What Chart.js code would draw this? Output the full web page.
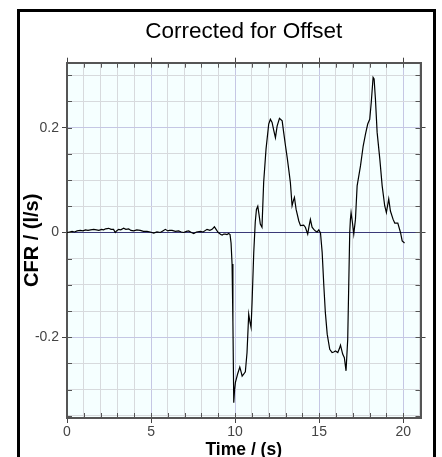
<!DOCTYPE html>
<html lang="en">
<head>
<meta charset="UTF-8">
<title>Corrected for Offset</title>
<script src="https://cdn.jsdelivr.net/npm/chart.js"></script>
<style>
    html, body { margin: 0; padding: 0; background: #fff; }
    body { position: relative; width: 442px; height: 457px; overflow: hidden; }
    .frame { position: absolute; left: 17px; top: 9px; width: 413px; height: 470px; border: 3px solid #000; }
    .chart-box { position: absolute; left: 0; top: 0; width: 442px; height: 457px; }
</style>
</head>
<body>
<div class="frame"></div>
<div class="chart-box"><canvas id="cfrChart" width="442" height="457"></canvas></div>

<script>
    // time (s) and corrected flow rate (l/s)
    const times = [
        0.0, 0.15, 0.3, 0.45, 0.6, 0.79, 0.95, 1.1, 1.25, 1.4, 1.59, 1.75, 1.9, 2.05, 2.18, 2.3, 2.48, 2.62, 2.77, 2.87,
        2.95, 3.07, 3.2, 3.37, 3.5, 3.67, 3.8, 3.97, 4.15, 4.36, 4.55, 4.76, 4.95, 5.16, 5.35, 5.55, 5.7, 5.85, 6.0, 6.1,
        6.25, 6.45, 6.64, 6.8, 6.94, 7.1, 7.24, 7.4, 7.54, 7.7, 7.94, 8.1, 8.33, 8.5, 8.63, 8.77, 8.85, 8.93, 9.0, 9.08,
        9.15, 9.23, 9.33, 9.42, 9.52, 9.62, 9.7, 9.76, 9.82, 9.87, 9.92, 9.97, 10.02, 10.15, 10.28, 10.35, 10.42, 10.52, 10.61, 10.71,
        10.81, 10.88, 10.95, 11.01, 11.11, 11.2, 11.27, 11.35, 11.42, 11.5, 11.6, 11.7, 11.84, 12.0, 12.1, 12.2, 12.3, 12.4, 12.5, 12.64,
        12.8, 12.89, 13.0, 13.1, 13.2, 13.29, 13.39, 13.46, 13.53, 13.63, 13.79, 13.89, 14.08, 14.18, 14.32, 14.4, 14.48, 14.58, 14.68, 14.78,
        14.88, 14.98, 15.08, 15.18, 15.28, 15.37, 15.48, 15.63, 15.77, 15.87, 15.97, 16.11, 16.2, 16.27, 16.4, 16.5, 16.6, 16.7, 16.76, 16.82,
        16.86, 16.9, 16.98, 17.06, 17.16, 17.26, 17.46, 17.62, 17.76, 17.89, 18.01, 18.1, 18.21, 18.27, 18.35, 18.45, 18.61, 18.75, 18.9, 19.0,
        19.14, 19.24, 19.4, 19.5, 19.68, 19.84, 19.94, 20.08
    ];
    const cfr = [
        0.0, 0.001, 0.002, 0.001, 0.003, 0.004, 0.003, 0.005, 0.004, 0.005, 0.006, 0.005, 0.004, 0.006, 0.005, 0.007, 0.008, 0.006, 0.006, 0.0,
        0.003, 0.006, 0.005, 0.008, 0.006, 0.007, 0.004, 0.003, 0.005, 0.004, 0.002, 0.002, 0.001, -0.001, 0.001, 0.0, 0.003, 0.006, 0.003, 0.004,
        0.004, 0.002, 0.003, 0.001, 0.0, 0.002, 0.003, 0.0, -0.002, 0.001, 0.002, 0.001, 0.006, 0.004, 0.006, 0.011, 0.007, 0.003, 0.0, -0.002,
        -0.004, -0.005, -0.003, -0.003, -0.004, -0.002, -0.004, -0.02, -0.06, -0.17, -0.325, -0.3, -0.286, -0.27, -0.257, -0.265, -0.274, -0.27, -0.266, -0.229,
        -0.156, -0.17, -0.181, -0.133, -0.038, 0.02, 0.044, 0.05, 0.035, 0.016, 0.01, 0.096, 0.159, 0.207, 0.216, 0.21, 0.195, 0.181, 0.203, 0.218,
        0.213, 0.191, 0.165, 0.143, 0.118, 0.095, 0.051, 0.06, 0.067, 0.044, 0.022, 0.013, 0.014, 0.01, -0.003, 0.012, 0.025, 0.01, 0.006, 0.003,
        0.001, 0.005, -0.001, -0.038, -0.102, -0.153, -0.194, -0.223, -0.229, -0.228, -0.226, -0.229, -0.222, -0.215, -0.232, -0.239, -0.264, -0.204, -0.102, 0.0,
        0.025, 0.038, 0.019, -0.003, 0.025, 0.089, 0.127, 0.165, 0.188, 0.207, 0.216, 0.248, 0.296, 0.293, 0.254, 0.191, 0.14, 0.089, 0.051, 0.038,
        0.064, 0.041, 0.025, 0.018, 0.018, 0.0, -0.016, -0.02
    ];
    const xTickLabels = [0, 5, 10, 15, 20];
    const yTickLabels = [-0.2, 0, 0.2];

    const FONT = '"Liberation Sans", Arial, sans-serif';

    function isMultiple(v, step) {
        return Math.abs(v / step - Math.round(v / step)) < 1e-6;
    }
    function tickValue(ctx) {
        return ctx.tick ? ctx.tick.value : 0.01;
    }
    // vertical grid: blue-ish every 5 s, grey in between
    function xGridColor(ctx) {
        return isMultiple(tickValue(ctx), 5) ? '#c5c7e4' : '#d7dadd';
    }
    // horizontal grid: dark zero line, blue-ish every 0.2
    function yGridColor(ctx) {
        const v = tickValue(ctx);
        if (Math.abs(v) < 1e-9) return '#3a3a78';
        return isMultiple(v, 0.2) ? '#c5c7e4' : '#d7dadd';
    }
    function xTickColor(ctx) {
        return isMultiple(tickValue(ctx), 5) ? '#444' : 'rgba(0,0,0,0)';
    }
    function yTickColor(ctx) {
        return isMultiple(tickValue(ctx), 0.2) ? '#444' : 'rgba(0,0,0,0)';
    }

    // light cyan plot background
    const plotBackground = {
        id: 'plotBackground',
        beforeDraw(chart) {
            const {ctx, chartArea: a} = chart;
            ctx.save();
            ctx.fillStyle = '#f5ffff';
            ctx.fillRect(a.left, a.top, a.right - a.left, a.bottom - a.top);
            ctx.restore();
        }
    };

    // short tick marks pointing into the plot on all four sides
    const innerTicks = {
        id: 'innerTicks',
        beforeDatasetsDraw(chart) {
            const {ctx, chartArea: a, scales} = chart;
            ctx.save();
            ctx.strokeStyle = '#555';
            ctx.lineWidth = 1;
            ctx.beginPath();
            scales.x.ticks.forEach(t => {
                const px = Math.round(scales.x.getPixelForValue(t.value)) + 0.5;
                ctx.moveTo(px, a.bottom); ctx.lineTo(px, a.bottom - 5);
                ctx.moveTo(px, a.top); ctx.lineTo(px, a.top + 5);
            });
            scales.y.ticks.forEach(t => {
                const py = Math.round(scales.y.getPixelForValue(t.value)) + 0.5;
                ctx.moveTo(a.left, py); ctx.lineTo(a.left + 5, py);
                ctx.moveTo(a.right, py); ctx.lineTo(a.right - 5, py);
            });
            ctx.stroke();
            ctx.restore();
        }
    };

    const xRange = {min: 0, max: 21.03};
    const yRange = {min: -0.354, max: 0.324};

    new Chart(document.getElementById('cfrChart'), {
        type: 'line',
        data: {
            datasets: [{
                data: times.map((t, i) => ({x: t, y: cfr[i]})),
                borderColor: '#000',
                borderWidth: 1.2,
                pointRadius: 0,
                tension: 0,
                fill: false
            }]
        },
        options: {
            responsive: false,
            animation: false,
            layout: {padding: 0},
            plugins: {
                legend: {display: false},
                tooltip: {enabled: false},
                title: {
                    display: true,
                    fullSize: false,
                    text: 'Corrected for Offset',
                    color: '#000',
                    font: {family: FONT, size: 22.5, weight: 'normal'},
                    padding: {top: 18.7, bottom: 11}
                }
            },
            scales: {
                x: {
                    type: 'linear',
                    position: 'bottom',
                    min: xRange.min,
                    max: xRange.max,
                    afterFit: s => { s.height = 39; },
                    grid: {color: xGridColor, lineWidth: 1, tickLength: 5, tickColor: xTickColor},
                    border: {color: '#555', width: 2},
                    ticks: {
                        stepSize: 1,
                        includeBounds: false,
                        autoSkip: false,
                        maxRotation: 0,
                        padding: 1,
                        color: '#444',
                        font: {family: FONT, size: 14},
                        callback: v => xTickLabels.some(l => Math.abs(l - v) < 1e-6) ? String(Math.round(v)) : ''
                    },
                    title: {
                        display: true,
                        text: 'Time / (s)',
                        color: '#000',
                        font: {family: FONT, size: 17.5, weight: 'bold', lineHeight: 0.78},
                        padding: 0
                    }
                },
                x2: {
                    type: 'linear',
                    axis: 'x',
                    position: 'top',
                    min: xRange.min,
                    max: xRange.max,
                    afterFit: s => { s.height = 6; },
                    grid: {drawOnChartArea: false, tickLength: 5, tickColor: xTickColor},
                    border: {color: '#555', width: 2},
                    ticks: {display: false, stepSize: 1, includeBounds: false, autoSkip: false}
                },
                y: {
                    type: 'linear',
                    position: 'left',
                    min: yRange.min,
                    max: yRange.max,
                    afterFit: s => { s.width = 67; },
                    grid: {color: yGridColor, lineWidth: 1, tickLength: 5, tickColor: yTickColor},
                    border: {color: '#555', width: 2},
                    ticks: {
                        stepSize: 0.05,
                        includeBounds: false,
                        autoSkip: false,
                        padding: 3,
                        color: '#444',
                        font: {family: FONT, size: 14},
                        callback: v => yTickLabels.some(l => Math.abs(l - v) < 1e-6) ? String(Math.round(v * 10) / 10) : ''
                    },
                    title: {
                        display: true,
                        text: 'CFR / (l/s)',
                        color: '#000',
                        font: {family: FONT, size: 20, weight: 'bold', lineHeight: 1},
                        padding: {top: 22.2, bottom: 0}
                    }
                },
                y2: {
                    type: 'linear',
                    axis: 'y',
                    position: 'right',
                    min: yRange.min,
                    max: yRange.max,
                    afterFit: s => { s.width = 21.5; },
                    grid: {drawOnChartArea: false, tickLength: 5, tickColor: yTickColor},
                    border: {color: '#555', width: 2},
                    ticks: {display: false, stepSize: 0.05, includeBounds: false, autoSkip: false}
                }
            }
        },
        plugins: [plotBackground, innerTicks]
    });
</script>
</body>
</html>
